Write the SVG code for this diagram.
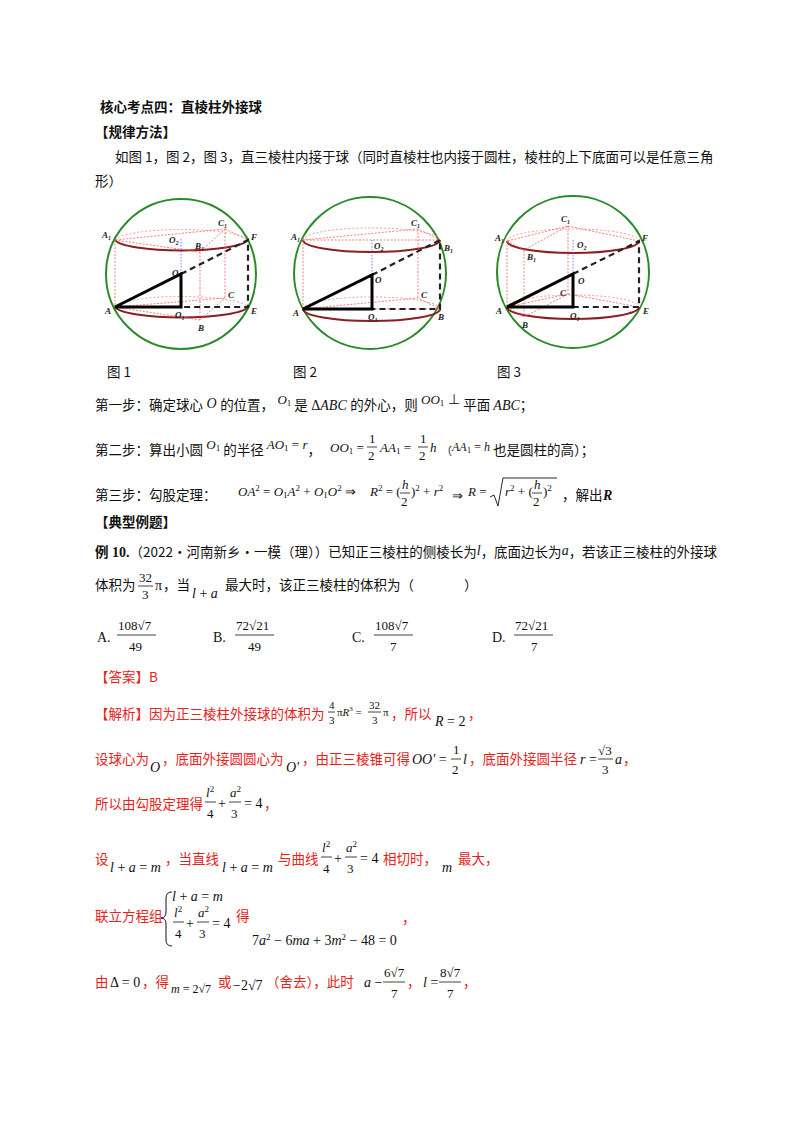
<svg xmlns="http://www.w3.org/2000/svg" width="800" height="1132" viewBox="0 0 800 1132">
<style>
text{font-family:"Liberation Serif","Noto Sans CJK SC",serif;font-size:14px;fill:#111}
.cn{font-family:"Noto Sans CJK SC",serif;font-size:13.5px;font-style:normal}
.b{font-weight:bold}
.r{fill:#e8231c}
.m{font-family:"Liberation Serif",serif;font-style:italic}
.n{font-family:"Liberation Serif",serif;font-style:normal}
.s{font-size:9px;font-style:normal}
.lb{font-family:"Liberation Serif",serif;font-style:italic;font-weight:bold;font-size:9px;fill:#222}
.lb tspan{font-size:6px}
.sph{fill:none;stroke:#2a8a2a;stroke-width:2}
.fr{fill:none;stroke:#8b1e1e;stroke-width:2}
.bk{fill:none;stroke:#f08080;stroke-width:0.8;stroke-dasharray:2 2}
.pk{fill:none;stroke:#f06060;stroke-width:0.8;stroke-dasharray:2 1.5}
.bl{stroke:#6060ff;stroke-width:0.8;stroke-dasharray:1.5 1.5}
.tk{fill:none;stroke:#000;stroke-width:3}
.ds{fill:none;stroke:#222;stroke-width:2.2;stroke-dasharray:6 4}
.bar{stroke:#111;stroke-width:0.8}
.f{font-family:"Liberation Serif",serif;font-size:13px}
</style>

<g id="heading">
<text x="100" y="112" class="cn b">核心考点四：直棱柱外接球</text>
<text x="95" y="137" class="cn b">【规律方法】</text>
<text x="115" y="162" class="cn">如图 1，图 2，图 3，直三棱柱内接于球（同时直棱柱也内接于圆柱，棱柱的上下底面可以是任意三角</text>
<text x="95" y="186" class="cn">形）</text>
</g>

<g id="fig1">
<circle class="sph" cx="181" cy="274" r="75"/>
<path class="bk" d="M115,240 A67,12 0 0 1 248,240"/>
<path class="fr" d="M115,240 A67,12 0 0 0 248,240"/>
<path class="bk" d="M115,307 A67,12 0 0 1 248,307"/>
<path class="fr" d="M115,307 A67,12 0 0 0 248,307"/>
<path class="pk" d="M115,240 V307 M200,252 V320 M225,229 V298 M115,240 L200,252 L225,229 Z M115,307 L200,320 L225,298 Z M225,229 L248,240"/>
<line class="bl" x1="181" y1="239" x2="181" y2="274"/>
<path class="ds" d="M181,274 L248,240 V307 H181"/>
<path class="tk" d="M115,307 L181,274 V307 Z"/>
<text class="lb" x="102" y="238">A<tspan dy="2">1</tspan></text>
<text class="lb" x="169" y="243">O<tspan dy="2">2</tspan></text>
<text class="lb" x="195" y="249">B<tspan dy="2">1</tspan></text>
<text class="lb" x="218" y="226">C<tspan dy="2">1</tspan></text>
<text class="lb" x="251" y="240">F</text>
<text class="lb" x="172" y="276">O</text>
<text class="lb" x="228" y="298">C</text>
<text class="lb" x="105" y="314">A</text>
<text class="lb" x="175" y="318">O<tspan dy="2">1</tspan></text>
<text class="lb" x="251" y="314">E</text>
<text class="lb" x="198" y="331">B</text>
</g>

<g id="fig2">
<circle class="sph" cx="370" cy="273" r="76"/>
<path class="bk" d="M303,240 A68,12 0 0 1 440,240"/>
<path class="fr" d="M303,240 A68,12 0 0 0 440,240"/>
<path class="bk" d="M303,309 A68,12 0 0 1 440,309"/>
<path class="fr" d="M303,309 A68,12 0 0 0 440,309"/>
<path class="pk" d="M303,240 V309 M418,229 V298 M303,240 L440,240 L418,229 Z M303,309 L440,309 L418,298 Z"/>
<line class="bl" x1="372" y1="240" x2="372" y2="275"/>
<path class="ds" d="M372,275 L440,240 V309 H372"/>
<path class="tk" d="M303,309 L372,275 V309 Z"/>
<text class="lb" x="291" y="240">A<tspan dy="2">1</tspan></text>
<text class="lb" x="374" y="249">O<tspan dy="2">2</tspan></text>
<text class="lb" x="411" y="226">C<tspan dy="2">1</tspan></text>
<text class="lb" x="444" y="251">B<tspan dy="2">1</tspan></text>
<text class="lb" x="375" y="283">O</text>
<text class="lb" x="421" y="298">C</text>
<text class="lb" x="293" y="316">A</text>
<text class="lb" x="368" y="320">O<tspan dy="2">1</tspan></text>
<text class="lb" x="438" y="320">B</text>
</g>

<g id="fig3">
<circle class="sph" cx="573" cy="272" r="76"/>
<path class="bk" d="M507,241 A66,12 0 0 1 639,241"/>
<path class="fr" d="M507,241 A66,12 0 0 0 639,241"/>
<path class="bk" d="M507,307 A66,12 0 0 1 639,307"/>
<path class="fr" d="M507,307 A66,12 0 0 0 639,307"/>
<path class="pk" d="M507,241 V307 M524,250 V317 M568,226 V294 M507,241 L524,250 L568,226 Z M507,307 L524,317 L568,294 Z M568,226 L639,241 M568,294 L639,307"/>
<line class="bl" x1="573" y1="240" x2="573" y2="274"/>
<path class="ds" d="M573,274 L639,241 V307 H573"/>
<path class="tk" d="M507,307 L573,274 V307 Z"/>
<text class="lb" x="495" y="241">A<tspan dy="2">1</tspan></text>
<text class="lb" x="561" y="222">C<tspan dy="2">1</tspan></text>
<text class="lb" x="577" y="248">O<tspan dy="2">2</tspan></text>
<text class="lb" x="527" y="260">B<tspan dy="2">1</tspan></text>
<text class="lb" x="642" y="241">F</text>
<text class="lb" x="578" y="284">O</text>
<text class="lb" x="560" y="296">C</text>
<text class="lb" x="496" y="314">A</text>
<text class="lb" x="570" y="319">O<tspan dy="2">1</tspan></text>
<text class="lb" x="643" y="314">E</text>
<text class="lb" x="522" y="328">B</text>
</g>

<g id="captions">
<text x="107" y="377" class="cn">图 1</text>
<text x="293" y="377" class="cn">图 2</text>
<text x="497" y="377" class="cn">图 3</text>
</g>

<g id="steps">
<text x="95" y="410"><tspan class="cn">第一步：确定球心</tspan><tspan class="m" dy="-2"> O </tspan><tspan class="cn" dy="2">的位置，</tspan><tspan class="m" dy="-6" style="font-size:13px"> O</tspan><tspan class="s" dy="2">1</tspan><tspan class="cn" dy="4"> 是</tspan><tspan class="n"> Δ</tspan><tspan class="m">ABC </tspan><tspan class="cn">的外心，则</tspan><tspan class="m" dy="-6" style="font-size:13px"> OO</tspan><tspan class="s" dy="2">1</tspan><tspan class="n" dy="-2"> ⊥ </tspan><tspan class="cn" dy="6">平面 </tspan><tspan class="m">ABC</tspan><tspan class="cn">；</tspan></text>

<text x="95" y="455"><tspan class="cn">第二步：算出小圆</tspan><tspan class="m" dy="-6" style="font-size:13px"> O</tspan><tspan class="s" dy="2">1</tspan><tspan class="cn" dy="4"> 的半径 </tspan><tspan class="m" dy="-6" style="font-size:13px">AO</tspan><tspan class="s" dy="2">1</tspan><tspan class="n" dy="-2" style="font-size:13px"> = </tspan><tspan class="m" style="font-size:13px">r</tspan><tspan class="cn" dy="6">，</tspan></text>
<text x="330" y="452" class="f"><tspan class="m">OO</tspan><tspan class="s" dy="2">1</tspan><tspan dy="-2"> =</tspan></text>
<text x="369" y="443" class="f">1</text><line class="bar" x1="367" y1="447" x2="377" y2="447"/><text x="368" y="460" class="f">2</text>
<text x="380" y="452" class="f"><tspan class="m">AA</tspan><tspan class="s" dy="2">1</tspan><tspan dy="-2"> =</tspan></text>
<text x="420" y="443" class="f">1</text><line class="bar" x1="418" y1="447" x2="428" y2="447"/><text x="419" y="460" class="f">2</text>
<text x="430" y="452" class="f m">h</text>
<text x="441" y="455"><tspan class="cn" style="font-size:11px">（</tspan><tspan class="m" dy="-4" style="font-size:12px">AA</tspan><tspan class="s" dy="2">1</tspan><tspan class="n" dy="-2" style="font-size:12px"> = </tspan><tspan class="m" style="font-size:12px">h </tspan><tspan class="cn" dy="4">也是圆柱的高）；</tspan></text>

<text x="95" y="500" class="cn">第三步：勾股定理：</text>
<text x="238" y="496" class="f"><tspan class="m">OA</tspan><tspan class="s" dy="-5">2</tspan><tspan dy="5"> = </tspan><tspan class="m">O</tspan><tspan class="s" dy="2">1</tspan><tspan class="m" dy="-2">A</tspan><tspan class="s" dy="-5">2</tspan><tspan dy="5"> + </tspan><tspan class="m">O</tspan><tspan class="s" dy="2">1</tspan><tspan class="m" dy="-2">O</tspan><tspan class="s" dy="-5">2</tspan><tspan dy="5"> ⇒</tspan></text>
<text x="370" y="496" class="f"><tspan class="m">R</tspan><tspan class="s" dy="-5">2</tspan><tspan dy="5"> = (</tspan></text>
<text x="402" y="489" class="f m">h</text><line class="bar" x1="400" y1="493" x2="410" y2="493"/><text x="401" y="506" class="f">2</text>
<text x="411" y="496" class="f">)<tspan class="s" dy="-5">2</tspan><tspan dy="5"> + </tspan><tspan class="m">r</tspan><tspan class="s" dy="-5">2</tspan></text>
<text x="452" y="500" class="f">⇒</text>
<text x="468" y="496" class="f"><tspan class="m">R</tspan> =</text>
<path d="M490,497 L494,495 L498,506 L503,478 H557" fill="none" stroke="#111" stroke-width="0.9"/>
<text x="505" y="496" class="f"><tspan class="m">r</tspan><tspan class="s" dy="-5">2</tspan><tspan dy="5"> + (</tspan></text>
<text x="534" y="489" class="f m">h</text><line class="bar" x1="532" y1="493" x2="542" y2="493"/><text x="533" y="506" class="f">2</text>
<text x="543" y="496" class="f">)<tspan class="s" dy="-5">2</tspan></text>
<text x="562" y="500" class="cn">，解出</text>
<text x="603" y="500" class="m b">R</text>
</g>

<g id="example">
<text x="95" y="527" class="cn b">【典型例题】</text>
<text x="95" y="557"><tspan class="cn b">例</tspan><tspan class="n b"> 10.</tspan><tspan class="cn">（2022·河南新乡·一模（理））已知正三棱柱的侧棱长为</tspan><tspan class="m" dy="-2">l</tspan><tspan class="cn" dy="2">，底面边长为</tspan><tspan class="m" dy="-2">a</tspan><tspan class="cn" dy="2">，若该正三棱柱的外接球</tspan></text>
<text x="95" y="590" class="cn">体积为</text>
<text x="139" y="582" class="f">32</text><line class="bar" x1="138" y1="586" x2="153" y2="586"/><text x="142" y="599" class="f">3</text>
<text x="155" y="590" class="n">π</text>
<text x="163" y="590" class="cn">，当</text>
<text x="192" y="598" class="m">l<tspan class="n"> + </tspan>a</text>
<text x="225" y="590" class="cn">最大时，该正三棱柱的体积为（</text>
<text x="464" y="590" class="cn">）</text>

<text x="97" y="642" class="n">A.</text>
<text x="118" y="630" class="f">108√7</text><line class="bar" x1="117" y1="635" x2="156" y2="635"/><text x="129" y="651" class="f">49</text>
<text x="213" y="642" class="n">B.</text>
<text x="236" y="630" class="f">72√21</text><line class="bar" x1="235" y1="635" x2="274" y2="635"/><text x="248" y="651" class="f">49</text>
<text x="352" y="642" class="n">C.</text>
<text x="375" y="630" class="f">108√7</text><line class="bar" x1="374" y1="635" x2="413" y2="635"/><text x="390" y="651" class="f">7</text>
<text x="492" y="642" class="n">D.</text>
<text x="515" y="630" class="f">72√21</text><line class="bar" x1="514" y1="635" x2="553" y2="635"/><text x="531" y="651" class="f">7</text>
</g>

<g id="solution">
<text x="95" y="682" class="cn r">【答案】B</text>
<text x="95" y="719" class="cn r">【解析】因为正三棱柱外接球的体积为</text>
<text x="329" y="709" class="n" style="font-size:11px">4</text><line class="bar" x1="328" y1="712" x2="335" y2="712"/><text x="329" y="724" class="n" style="font-size:11px">3</text>
<text x="337" y="716" class="n" style="font-size:11px">π<tspan class="m">R</tspan><tspan style="font-size:7px" dy="-5">3</tspan><tspan dy="5"> =</tspan></text>
<text x="369" y="709" class="n" style="font-size:11px">32</text><line class="bar" x1="368" y1="712" x2="381" y2="712"/><text x="372" y="724" class="n" style="font-size:11px">3</text>
<text x="383" y="716" class="n" style="font-size:11px">π</text>
<text x="391" y="719" class="cn r">，所以</text>
<text x="435" y="726" class="m">R<tspan class="n"> = 2</tspan></text>
<text x="468" y="719" class="cn r">，</text>

<text x="95" y="764" class="cn r">设球心为</text>
<text x="150" y="772" class="m">O</text>
<text x="162" y="764" class="cn r">，底面外接圆圆心为</text>
<text x="286" y="772" class="m">O′</text>
<text x="302" y="764" class="cn r">，由正三棱锥可得</text>
<text x="412" y="764" class="m">OO′<tspan class="n"> =</tspan></text>
<text x="453" y="754" class="f">1</text><line class="bar" x1="451" y1="759" x2="461" y2="759"/><text x="452" y="774" class="f">2</text>
<text x="463" y="764" class="m">l</text>
<text x="469" y="764" class="cn r">，底面外接圆半径</text>
<text x="580" y="764" class="m">r<tspan class="n"> =</tspan></text>
<text x="598" y="755" class="f">√3</text><line class="bar" x1="598" y1="759" x2="613" y2="759"/><text x="602" y="774" class="f">3</text>
<text x="615" y="764" class="m">a</text>
<text x="623" y="764" class="cn r">，</text>

<text x="95" y="809" class="cn r">所以由勾股定理得</text>
<text x="206" y="797" class="f m">l<tspan class="s" dy="-5">2</tspan></text><line class="bar" x1="205" y1="802" x2="216" y2="802"/><text x="207" y="818" class="f">4</text>
<text x="218" y="808" class="n">+</text>
<text x="230" y="797" class="f m">a<tspan class="s" dy="-5">2</tspan></text><line class="bar" x1="229" y1="802" x2="241" y2="802"/><text x="231" y="818" class="f">3</text>
<text x="244" y="808" class="n">= 4</text>
<text x="264" y="809" class="cn r">，</text>

<text x="95" y="864" class="cn r">设</text>
<text x="110" y="872" class="m">l<tspan class="n"> + </tspan>a<tspan class="n"> = </tspan>m</text>
<text x="165" y="864" class="cn r">，当直线</text>
<text x="222" y="872" class="m">l<tspan class="n"> + </tspan>a<tspan class="n"> = </tspan>m</text>
<text x="278" y="864" class="cn r">与曲线</text>
<text x="322" y="852" class="f m">l<tspan class="s" dy="-5">2</tspan></text><line class="bar" x1="321" y1="857" x2="332" y2="857"/><text x="323" y="873" class="f">4</text>
<text x="334" y="863" class="n">+</text>
<text x="346" y="852" class="f m">a<tspan class="s" dy="-5">2</tspan></text><line class="bar" x1="345" y1="857" x2="357" y2="857"/><text x="347" y="873" class="f">3</text>
<text x="360" y="863" class="n">= 4</text>
<text x="383" y="864" class="cn r">相切时，</text>
<text x="442" y="872" class="m">m</text>
<text x="458" y="864" class="cn r">最大，</text>

<text x="95" y="921" class="cn r">联立方程组</text>
<path d="M172,892 Q166,892 166,898 V912 Q166,918 161,918 Q166,918 166,924 V940 Q166,946 172,946" fill="none" stroke="#111" stroke-width="1"/>
<text x="172" y="901" class="m">l<tspan class="n"> + </tspan>a<tspan class="n"> = </tspan>m</text>
<text x="174" y="917" class="f m">l<tspan class="s" dy="-5">2</tspan></text><line class="bar" x1="173" y1="922" x2="184" y2="922"/><text x="175" y="938" class="f">4</text>
<text x="186" y="928" class="n">+</text>
<text x="198" y="917" class="f m">a<tspan class="s" dy="-5">2</tspan></text><line class="bar" x1="197" y1="922" x2="209" y2="922"/><text x="199" y="938" class="f">3</text>
<text x="212" y="928" class="n">= 4</text>
<text x="236" y="921" class="cn r">得</text>
<text x="252" y="945" class="n">7<tspan class="m">a</tspan><tspan class="s" dy="-5">2</tspan><tspan dy="5"> − 6</tspan><tspan class="m">ma</tspan><tspan> + 3</tspan><tspan class="m">m</tspan><tspan class="s" dy="-5">2</tspan><tspan dy="5"> − 48 = 0</tspan></text>
<text x="402" y="923" class="cn r">，</text>

<text x="95" y="987" class="cn r">由</text>
<text x="110" y="987" class="n">Δ = 0</text>
<text x="142" y="987" class="cn r">，得</text>
<text x="171" y="993" class="m" style="font-size:12px">m<tspan class="n"> = 2√7</tspan></text>
<text x="218" y="987" class="cn r">或</text>
<text x="233" y="990" class="n">−2√7</text>
<text x="266" y="987" class="cn r">（舍去），此时</text>
<text x="364" y="987" class="m">a<tspan class="n"> −</tspan></text>
<text x="384" y="977" class="f">6√7</text><line class="bar" x1="383" y1="982" x2="405" y2="982"/><text x="391" y="998" class="f">7</text>
<text x="407" y="987" class="cn r">，</text>
<text x="423" y="987" class="m">l<tspan class="n"> =</tspan></text>
<text x="440" y="977" class="f">8√7</text><line class="bar" x1="439" y1="982" x2="461" y2="982"/><text x="447" y="998" class="f">7</text>
<text x="463" y="987" class="cn r">，</text>
</g>
</svg>
